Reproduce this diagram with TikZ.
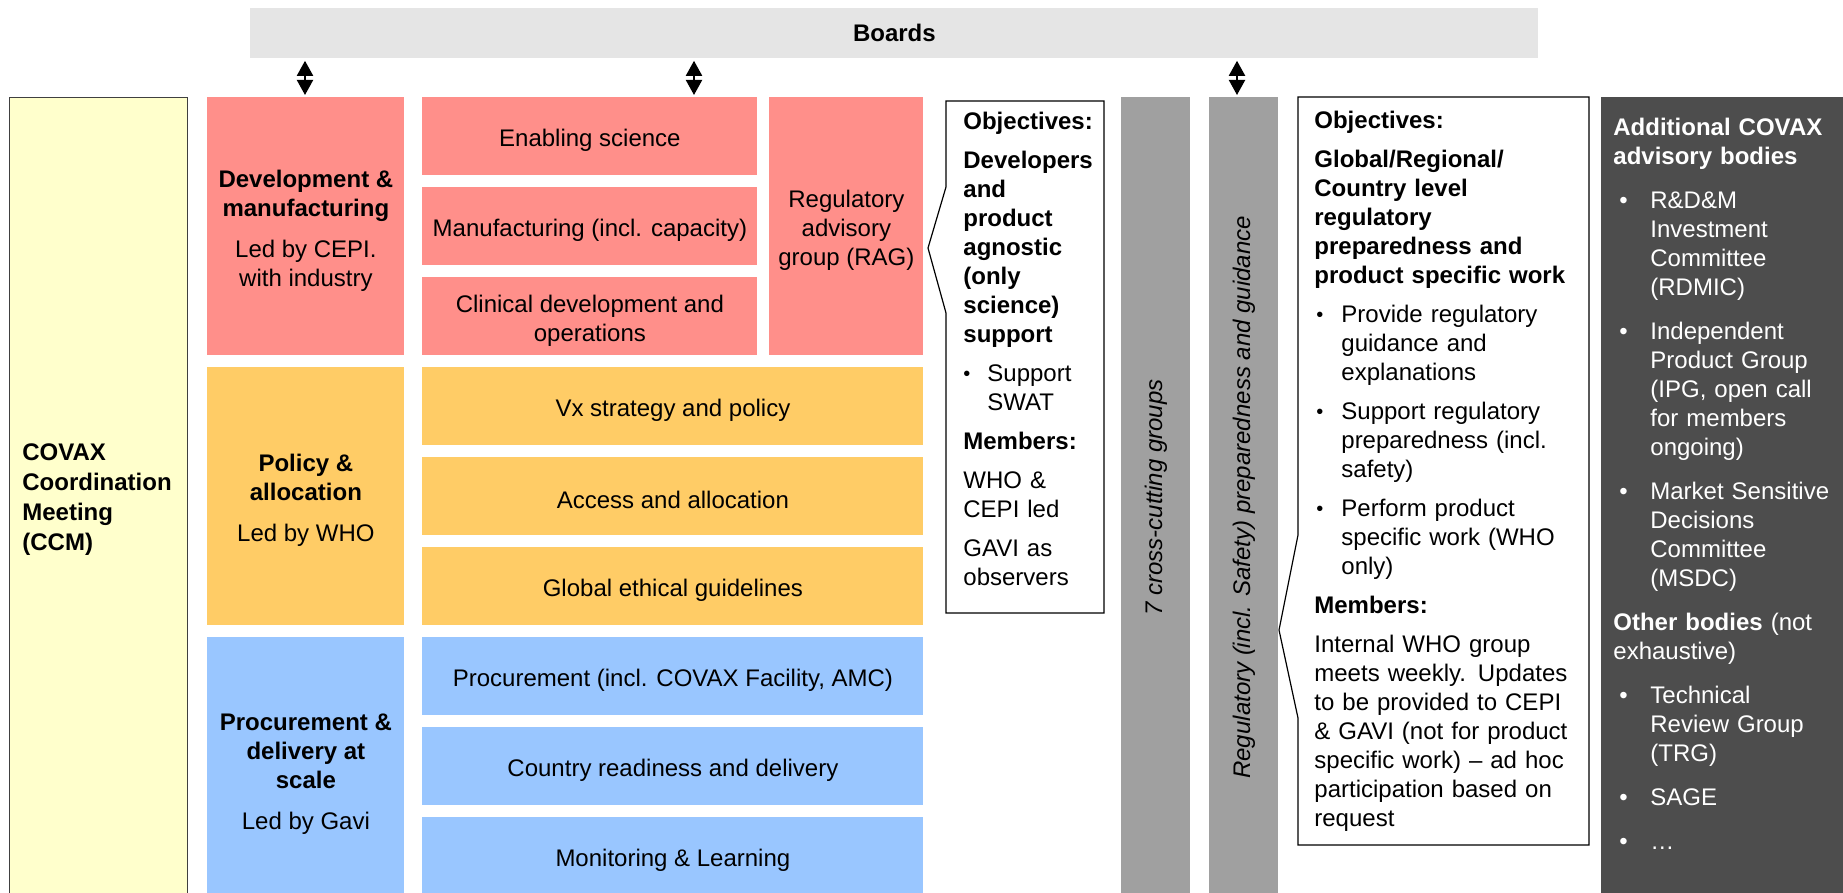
\documentclass[tikz,border=0pt]{standalone}
\usepackage{fontspec}
\setmainfont{Liberation Sans}
\usepackage{tikz}
\usetikzlibrary{arrows.meta, positioning, calc}
\definecolor{salmon}{HTML}{FF8F8A}
\definecolor{amber}{HTML}{FFCC66}
\definecolor{skyblue}{HTML}{99C6FF}
\definecolor{paleyellow}{HTML}{FFFFCC}
\definecolor{boardgray}{HTML}{E5E5E5}
\definecolor{bargray}{HTML}{A0A0A0}
\definecolor{darkpanel}{HTML}{4D4D4D}
\newcommand{\boardlink}[3]
{
	\draw[boardarrow] (boards.south -| #3) -- (#2.north -| #3)
}
\newcommand{\topstrut}{\rule{0pt}{12.8pt}}
\newcommand{\bul}[3]{\hangindent=#1\hangafter=1\noindent\makebox[#1][l]{\hspace{#2}\raisebox{0.6pt}{\fontsize{10}{10}\selectfont\textbullet}}#3}
\newcommand{\darkbul}[3]{\hangindent=#1\hangafter=1\noindent\makebox[#1][l]{\hspace{#2}\textbullet}#3}

\begin{document}
\begin{tikzpicture}[x=0.5pt, y=-0.5pt,
	every node/.append style={font=\fontsize{12}{14.5}\selectfont},
	block/.style={draw=none, anchor=north west, inner sep=0pt, align=center, execute at begin node={\rule{0pt}{12.6pt}}},
	plainblock/.style={draw=none, anchor=north west, inner sep=0pt},
	textcol/.style={anchor=north west, inner sep=0pt, align=left},
	boardarrow/.style={{Triangle[width=8pt,length=7.5pt]}-{Triangle[width=8pt,length=7.5pt]}, line width=1pt, shorten <=1pt, shorten >=1pt},
	calloutline/.style={draw=black, fill=white, line width=0.6pt}]
	\useasboundingbox (0,0) rectangle (1843,893);

	\node[plainblock, fill=boardgray, minimum width=644pt, minimum height=25pt, font=\fontsize{12}{14}\selectfont\bfseries] (boards) at (250,8) {Boards};

	\node[plainblock, fill=paleyellow, draw=black!75, line width=0.6pt, minimum width=89pt, minimum height=410pt] (ccm) at (9,97) {};
	\node[anchor=west, inner sep=0pt, align=left, font=\fontsize{12}{15}\selectfont\bfseries] (ccmtext) at (22,500) {COVAX\\Coordination\\Meeting\\(CCM)};

	% development & manufacturing
	\node[block, fill=salmon, minimum width=98.5pt, minimum height=129pt] (devmfg) at (207,97) {\topstrut\textbf{Development \&}\\\textbf{manufacturing}\\[6pt]Led by CEPI.\\with industry};
	\node[block, fill=salmon, minimum width=167.5pt, minimum height=39pt] (science) at (422,97) {Enabling science};
	\node[block, fill=salmon, minimum width=167.5pt, minimum height=39pt] (manufact) at (422,187) {Manufacturing (incl. capacity)};
	\node[block, fill=salmon, minimum width=167.5pt, minimum height=39pt] (clinical) at (422,277) {\topstrut Clinical development and\\operations};
	\node[block, fill=salmon, minimum width=77pt, minimum height=129pt] (rag) at (769,97) {\topstrut Regulatory\\advisory\\group (RAG)};

	% policy & allocation
	\node[block, fill=amber, minimum width=98.5pt, minimum height=129pt] (policy) at (207,367) {\topstrut\textbf{Policy \&}\\\textbf{allocation}\\[6pt]Led by WHO};
	\node[block, fill=amber, minimum width=250.5pt, minimum height=39pt] (strategy) at (422,367) {Vx strategy and policy};
	\node[block, fill=amber, minimum width=250.5pt, minimum height=39pt] (access) at (422,457) {Access and allocation};
	\node[block, fill=amber, minimum width=250.5pt, minimum height=39pt] (ethics) at (422,547) {Global ethical guidelines};

	% procurement & delivery
	\node[block, fill=skyblue, minimum width=98.5pt, minimum height=132pt] (procdel) at (207,637) {\topstrut\textbf{Procurement \&}\\\textbf{delivery at}\\\textbf{scale}\\[6pt]Led by Gavi};
	\node[block, fill=skyblue, minimum width=250.5pt, minimum height=39pt] (procure) at (422,637) {Procurement (incl. COVAX Facility, AMC)};
	\node[block, fill=skyblue, minimum width=250.5pt, minimum height=39pt] (readiness) at (422,727) {Country readiness and delivery};
	\node[block, fill=skyblue, minimum width=250.5pt, minimum height=39pt] (monitor) at (422,817) {Monitoring \& Learning};

	% cross-cutting bars
	\node[plainblock, fill=bargray, minimum width=34.5pt, minimum height=400pt] (crossbar) at (1121,97) {};
	\node[rotate=90, inner sep=0pt, font=\fontsize{12}{14}\selectfont\itshape] (crosstext) at (crossbar.center) {7 cross-cutting groups};
	\node[plainblock, fill=bargray, minimum width=34.5pt, minimum height=400pt] (regbar) at (1209,97) {};
	\node[rotate=90, inner sep=0pt, font=\fontsize{12}{14}\selectfont\itshape] (regtext) at (regbar.center) {Regulatory (incl. Safety) preparedness and guidance};

	% objectives callouts
	\draw[calloutline] (946,101) -- (1104,101) -- (1104,613) -- (946,613) -- (946,313) -- (928,248) -- (946,187) -- cycle;
	\node[textcol, text width=75pt, font=\fontsize{12}{14.5}\selectfont\setlength{\parskip}{5pt}] (ragobj) at (963,112) {\textbf{Objectives:}\par
		\textbf{Developers\newline and\newline product\newline agnostic\newline (only\newline science)\newline support}\par
		\bul{12pt}{0pt}{Support\newline SWAT}\par
		\textbf{Members:}\par
		WHO \&\newline CEPI led\par
		GAVI as\newline observers};

	\draw[calloutline] (1298,97) -- (1589,97) -- (1589,845) -- (1298,845) -- (1298,718) -- (1279,630) -- (1298,535) -- cycle;
	\node[textcol, text width=136pt, font=\fontsize{12}{14.5}\selectfont\setlength{\parskip}{5pt}] (regobj) at (1314,111) {\textbf{Objectives:}\par
		\textbf{Global/Regional/\newline Country level\newline regulatory\newline preparedness and\newline product specific work}\par
		\bul{13.5pt}{1pt}{Provide regulatory\newline guidance and\newline explanations}\par
		\bul{13.5pt}{1pt}{Support regulatory\newline preparedness (incl.\newline safety)}\par
		\bul{13.5pt}{1pt}{Perform product\newline specific work (WHO\newline only)}\par
		\textbf{Members:}\par
		Internal WHO group\newline meets weekly. Updates\newline to be provided to CEPI\newline \& GAVI (not for product\newline specific work) – ad hoc\newline participation based on\newline request};

	% advisory bodies
	\node[plainblock, fill=darkpanel, minimum width=121pt, minimum height=400pt] (advisory) at (1601,97) {};
	\node[textcol, text width=114pt, text=white, font=\fontsize{12}{14.5}\selectfont\setlength{\parskip}{7.5pt}] (advtext) at (1613,118) {\textbf{Additional COVAX\newline advisory bodies}\par
		\darkbul{18.5pt}{3pt}{R\&D\&M\newline Investment\newline Committee\newline (RDMIC)}\par
		\darkbul{18.5pt}{3pt}{Independent\newline Product Group\newline (IPG, open call\newline for members\newline ongoing)}\par
		\darkbul{18.5pt}{3pt}{Market Sensitive\newline Decisions\newline Committee\newline (MSDC)}\par
		\textbf{Other bodies} (not\newline exhaustive)\par
		\darkbul{18.5pt}{3pt}{Technical\newline Review Group\newline (TRG)}\par
		\darkbul{18.5pt}{3pt}{SAGE}\par
		\darkbul{18.5pt}{3pt}{…}};

	% links to the boards
	\coordinate (link1) at (305,0);
	\coordinate (link2) at (694,0);
	\coordinate (link3) at (1237,0);
	\boardlink{boards}{devmfg}{link1};
	\boardlink{boards}{science}{link2};
	\boardlink{boards}{regbar}{link3};
\end{tikzpicture}
\end{document}
